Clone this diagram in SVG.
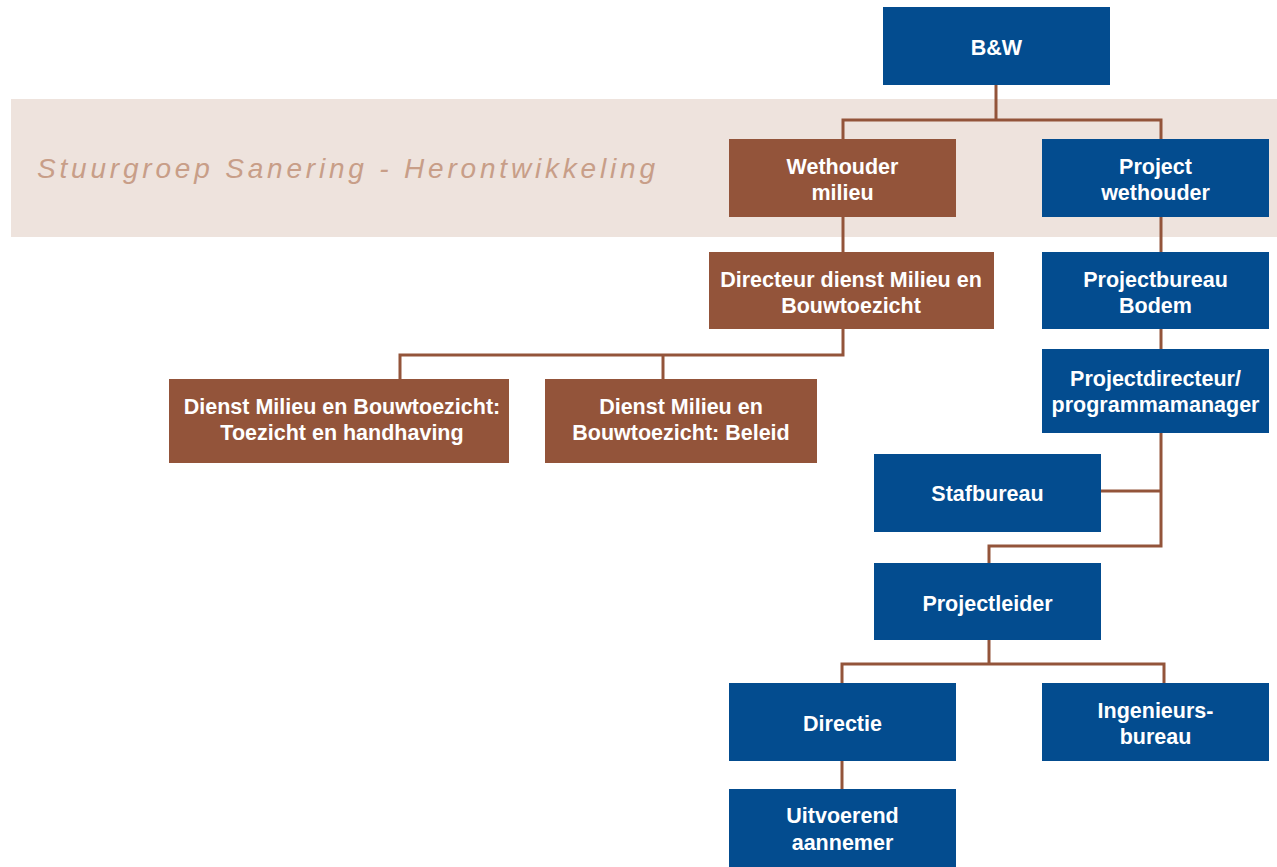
<svg xmlns="http://www.w3.org/2000/svg" width="1277" height="867" viewBox="0 0 1277 867">
  <style>
    .blue { fill: #034C8F; }
    .brown { fill: #93543A; }
    .lbl { font-family: "Liberation Sans", Arial, sans-serif; font-weight: bold; font-size: 21.5px; fill: #FFFFFF; text-anchor: middle; }
    .link { fill: none; stroke: #93543A; stroke-width: 3; stroke-linejoin: miter; }
    .band-title { font-family: "Liberation Sans", Arial, sans-serif; font-style: italic; font-size: 28px; fill: #C89E88; }
  </style>

  <rect width="1277" height="867" fill="#FFFFFF"/>

  <!-- steering group band -->
  <g id="band">
    <rect x="11" y="99" width="1266" height="138" fill="#EEE3DD"/>
    <text class="band-title" x="37" y="178" textLength="618" lengthAdjust="spacing">Stuurgroep Sanering - Herontwikkeling</text>
  </g>

  <!-- connectors -->
  <g id="connectors">
    <polyline class="link" points="996,85 996,120"/>
    <polyline class="link" points="843,139 843,120 1161,120 1161,139"/>
    <polyline class="link" points="843,217 843,252"/>
    <polyline class="link" points="1161,217 1161,252"/>
    <polyline class="link" points="1161,329 1161,349"/>
    <polyline class="link" points="843,329 843,355 400,355 400,379"/>
    <polyline class="link" points="663,355 663,379"/>
    <polyline class="link" points="1161,433 1161,546 989,546 989,563"/>
    <polyline class="link" points="1101,491 1161,491"/>
    <polyline class="link" points="989,640 989,664"/>
    <polyline class="link" points="842,683 842,664 1164,664 1164,683"/>
    <polyline class="link" points="842,761 842,789"/>
  </g>

  <g id="node-bw">
    <rect class="blue" x="883" y="7" width="227" height="78"/>
    <text class="lbl" x="996.5" y="55">B&amp;W</text>
  </g>

  <g id="node-wethouder-milieu">
    <rect class="brown" x="729" y="139" width="227" height="78"/>
    <text class="lbl" x="842.5" y="174">Wethouder</text>
    <text class="lbl" x="842.5" y="200">milieu</text>
  </g>

  <g id="node-project-wethouder">
    <rect class="blue" x="1042" y="139" width="227" height="78"/>
    <text class="lbl" x="1155.5" y="174">Project</text>
    <text class="lbl" x="1155.5" y="200">wethouder</text>
  </g>

  <g id="node-directeur">
    <rect class="brown" x="709" y="252" width="285" height="77"/>
    <text class="lbl" x="851" y="287">Directeur dienst Milieu en</text>
    <text class="lbl" x="851" y="313">Bouwtoezicht</text>
  </g>

  <g id="node-projectbureau">
    <rect class="blue" x="1042" y="252" width="227" height="77"/>
    <text class="lbl" x="1155.5" y="287">Projectbureau</text>
    <text class="lbl" x="1155.5" y="313">Bodem</text>
  </g>

  <g id="node-projectdirecteur">
    <rect class="blue" x="1042" y="349" width="227" height="84"/>
    <text class="lbl" x="1155.5" y="386">Projectdirecteur/</text>
    <text class="lbl" x="1155.5" y="412">programmamanager</text>
  </g>

  <g id="node-toezicht">
    <rect class="brown" x="169" y="379" width="340" height="84"/>
    <text class="lbl" x="342" y="414">Dienst Milieu en Bouwtoezicht:</text>
    <text class="lbl" x="342" y="440">Toezicht en handhaving</text>
  </g>

  <g id="node-beleid">
    <rect class="brown" x="545" y="379" width="272" height="84"/>
    <text class="lbl" x="681" y="414">Dienst Milieu en</text>
    <text class="lbl" x="681" y="440">Bouwtoezicht: Beleid</text>
  </g>

  <g id="node-stafbureau">
    <rect class="blue" x="874" y="454" width="227" height="78"/>
    <text class="lbl" x="987.5" y="501">Stafbureau</text>
  </g>

  <g id="node-projectleider">
    <rect class="blue" x="874" y="563" width="227" height="77"/>
    <text class="lbl" x="987.5" y="611">Projectleider</text>
  </g>

  <g id="node-directie">
    <rect class="blue" x="729" y="683" width="227" height="78"/>
    <text class="lbl" x="842.5" y="731">Directie</text>
  </g>

  <g id="node-ingenieursbureau">
    <rect class="blue" x="1042" y="683" width="227" height="78"/>
    <text class="lbl" x="1155.5" y="718">Ingenieurs-</text>
    <text class="lbl" x="1155.5" y="744">bureau</text>
  </g>

  <g id="node-aannemer">
    <rect class="blue" x="729" y="789" width="227" height="78"/>
    <text class="lbl" x="842.5" y="823">Uitvoerend</text>
    <text class="lbl" x="842.5" y="850">aannemer</text>
  </g>
</svg>
